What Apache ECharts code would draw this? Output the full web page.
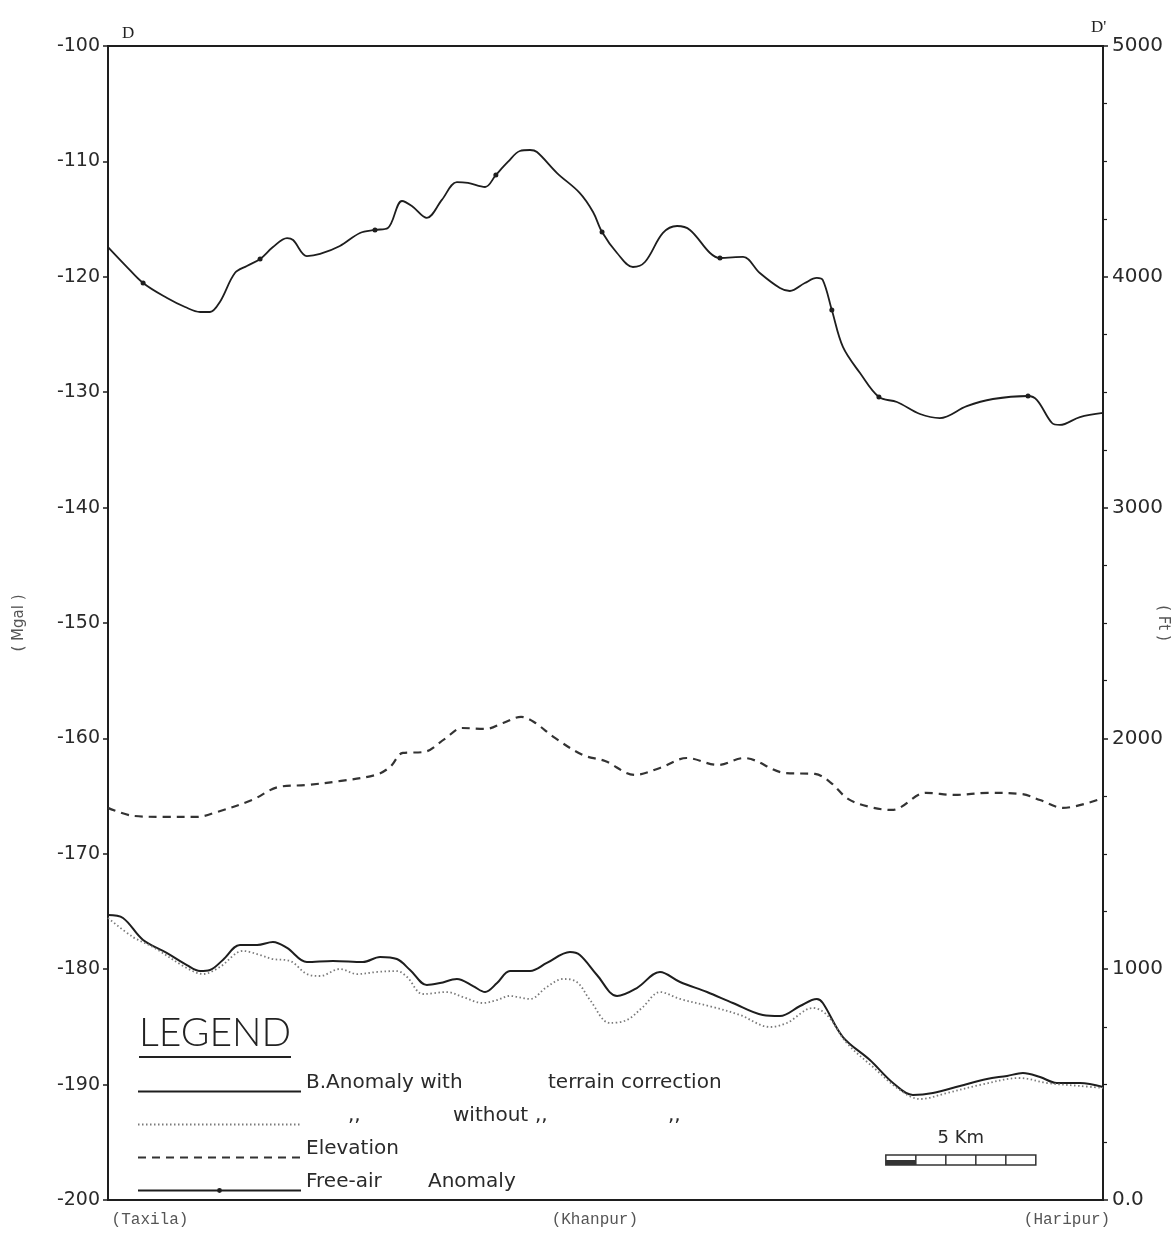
<!DOCTYPE html>
<html>
<head>
<meta charset="utf-8">
<script src="https://cdn.jsdelivr.net/npm/echarts@6/dist/echarts.min.js"></script>
<style>
html,body{margin:0;padding:0;background:#fff;}
#chart{width:1176px;height:1242px;}
</style>
</head>
<body>
<div id="chart"></div>
<script>
// ---- Data (distance along profile D-D' in km) ----
var freeAirKm = [0,0.57,1.17,1.97,2.57,3.07,3.4,3.73,4.23,4.63,5.07,5.5,5.97,6.17,6.63,7.07,7.73,8.4,8.9,9.33,9.8,10.13,10.63,11.13,11.63,12.0,12.57,12.93,13.33,13.73,14.07,14.3,14.97,15.73,16.17,16.47,16.97,17.5,17.9,18.5,18.97,19.4,20.07,20.4,21.17,21.73,22.4,22.73,23.23,23.63,23.83,24.13,24.5,25.07,25.7,26.3,27.07,27.73,28.63,29.5,30.67,30.97,31.47,31.73,32.4,33.17];
var freeAirMgal = [-117.42,-118.98,-120.54,-121.84,-122.62,-123.05,-123.05,-122.18,-119.67,-119.06,-118.46,-117.42,-116.64,-116.81,-118.2,-118.02,-117.33,-116.2,-115.94,-115.77,-113.43,-113.86,-114.9,-113.34,-111.79,-111.87,-112.22,-111.18,-110.05,-109.1,-109.01,-109.19,-111.01,-112.74,-114.38,-116.12,-117.94,-119.15,-118.72,-116.2,-115.6,-115.94,-117.94,-118.37,-118.28,-119.67,-120.97,-121.23,-120.54,-120.1,-120.28,-122.88,-126.08,-128.34,-130.42,-130.85,-131.89,-132.24,-131.2,-130.59,-130.33,-130.68,-132.67,-132.84,-132.15,-131.8];
var freeAirStationIdx = [2,10,18,27,35,43,51,54,60];

var elevKm = [0,0.87,1.9,2.97,3.63,4.8,5.7,6.63,7.77,8.93,9.4,9.83,10.53,11.23,11.8,12.6,13.17,13.77,14.2,14.9,15.83,16.57,17.57,18.4,19.3,20.33,21.2,22.57,23.57,24.07,24.67,25.4,26.13,27.27,28.23,29.33,30.47,31.07,31.83,33.17];
var elevFt = [1699,1664,1660,1660,1681,1733,1790,1798,1816,1842,1876,1937,1941,1998,2045,2041,2067,2093,2071,2002,1928,1902,1842,1872,1915,1885,1915,1850,1846,1811,1738,1703,1690,1764,1755,1764,1759,1733,1699,1742];

var bWithKm = [0,0.5,1.17,1.97,2.63,3.07,3.4,3.83,4.4,4.97,5.5,5.97,6.63,7.5,8.5,9.07,9.63,10.07,10.63,11.07,11.63,12.17,12.57,12.97,13.4,14.07,14.63,15.4,15.73,16.3,16.97,17.63,18.4,19.07,19.97,20.83,21.83,22.4,23.07,23.63,23.83,24.5,25.4,26.17,26.83,27.5,28.4,29.3,29.97,30.5,31.07,31.63,32.4,33.17];
var bWithMgal = [-175.3,-175.56,-177.47,-178.6,-179.64,-180.16,-180.07,-179.2,-177.9,-177.9,-177.64,-178.16,-179.38,-179.29,-179.38,-178.94,-179.12,-180.07,-181.37,-181.2,-180.85,-181.46,-181.98,-181.2,-180.16,-180.16,-179.46,-178.51,-178.77,-180.5,-182.32,-181.63,-180.24,-181.11,-181.98,-182.93,-183.97,-184.06,-183.19,-182.58,-182.93,-185.88,-187.87,-189.86,-190.9,-190.73,-190.12,-189.51,-189.25,-188.99,-189.34,-189.86,-189.86,-190.21];

var bWithoutKm = [0,0.83,1.5,2.63,3.17,3.73,4.5,5.07,5.5,6.07,6.63,7.07,7.73,8.3,8.97,9.63,9.97,10.5,11.3,11.83,12.5,12.97,13.4,14.07,14.63,15.17,15.63,16.07,16.73,17.3,17.83,18.4,19.07,20.17,21.07,22.07,22.63,23.5,23.97,24.63,25.5,26.4,27.07,27.97,29.07,30.4,31.3,32.4,33.17];
var bWithoutMgal = [-175.56,-177.21,-178.08,-179.9,-180.42,-179.81,-178.42,-178.77,-179.12,-179.29,-180.42,-180.59,-179.98,-180.42,-180.24,-180.16,-180.68,-182.15,-181.98,-182.41,-182.93,-182.67,-182.32,-182.58,-181.54,-180.85,-181.11,-182.67,-184.66,-184.4,-183.28,-181.98,-182.58,-183.28,-183.97,-185.01,-184.66,-183.36,-183.97,-186.4,-188.47,-190.47,-191.25,-190.73,-190.03,-189.43,-189.86,-190.12,-190.29];

var seriesNames = ['B.Anomaly with  terrain correction', 'B.Anomaly without terrain correction', 'Elevation', 'Free-air   Anomaly'];
// legend wording as printed (ditto marks on the second row)
var legendTexts = [
  '{w242|B.Anomaly with}{t|terrain correction}\n',
  '{w42|\u00a0}{w105|,,}{w82|without}{w133|,,}{t|,,}\n',
  '{t|Elevation}\n',
  '{w122|Free-air}{t|Anomaly}\n'
];

var placeKm = [1.4, 16.23, 31.97];
var placeNames = ['(Taxila)', '(Khanpur)', '(Haripur)'];

var mgalTicks = [-200, -100, 10];   // min, max, interval
var ftTicks = [0, 5000, 1000];      // min, max, interval
var scaleBarKm = 5;

function pairs(xs, ys) { return xs.map(function (x, i) { return [x, ys[i]]; }); }

var freeAirData = freeAirKm.map(function (x, i) {
  var item = { value: [x, freeAirMgal[i]] };
  if (freeAirStationIdx.indexOf(i) >= 0) { item.symbol = 'circle'; item.symbolSize = 5; }
  return item;
});

var chart = echarts.init(document.getElementById('chart'), null, { renderer: 'canvas' });
var ink = '#1e1e1e';
var txt = '#2a2a2a';
var legendFont = { fontFamily: 'DejaVu Sans', fontSize: 20, color: txt, lineHeight: 17 };
function rw(w) { return { fontFamily: 'DejaVu Sans', fontSize: 20, color: txt, width: w, lineHeight: 17 }; }

var option = {
  backgroundColor: '#ffffff',
  animation: false,
  grid: { left: 108, right: 73, top: 46, bottom: 42, outerBoundsMode: 'none', containLabel: false, show: true, borderColor: ink, borderWidth: 2, backgroundColor: 'transparent' },
  legend: {
    show: true,
    orient: 'vertical',
    left: 137,
    top: 1073,
    padding: 0,
    itemGap: -4,
    itemWidth: 163,
    itemHeight: 6,
    selectedMode: false,
    data: [
      { name: seriesNames[0], itemStyle: { opacity: 0 } },
      { name: seriesNames[1], itemStyle: { opacity: 0 } },
      { name: seriesNames[2], itemStyle: { opacity: 0 } },
      { name: seriesNames[3] }
    ],
    formatter: function (name) { return legendTexts[seriesNames.indexOf(name)]; },
    textStyle: {
      fontFamily: 'DejaVu Sans', fontSize: 20, color: txt, lineHeight: 17,
      rich: { t: legendFont, w242: rw(242), w42: rw(42), w105: rw(105), w82: rw(82), w133: rw(133), w122: rw(122) }
    }
  },
  xAxis: {
    type: 'value', min: 0, max: 33.17,
    axisLine: { show: true, lineStyle: { color: ink, width: 2 } },
    axisTick: { show: false },
    splitLine: { show: false },
    axisLabel: {
      show: true,
      customValues: placeKm,
      margin: 12,
      fontFamily: 'Liberation Mono', fontSize: 16, color: '#555',
      formatter: function (v) {
        for (var i = 0; i < placeKm.length; i++) if (Math.abs(placeKm[i] - v) < 1e-6) return placeNames[i];
        return '';
      }
    }
  },
  yAxis: [{
    type: 'value', min: mgalTicks[0], max: mgalTicks[1], interval: mgalTicks[2],
    position: 'left',
    name: '( Mgal )', nameLocation: 'middle', nameGap: 81, nameRotate: 90, nameMoveOverlap: false,
    nameTextStyle: { fontFamily: 'DejaVu Sans', fontSize: 15, color: '#555' },
    axisLine: { show: true, lineStyle: { color: ink, width: 2 } },
    axisTick: { show: true, inside: false, length: 5, lineStyle: { color: ink, width: 1.5 } },
    splitLine: { show: false },
    axisLabel: { fontFamily: 'DejaVu Sans', fontSize: 19, color: txt, margin: 8 }
  }, {
    type: 'value', min: ftTicks[0], max: ftTicks[1], interval: ftTicks[2],
    position: 'right',
    name: '( Ft )', nameLocation: 'middle', nameGap: 52, nameRotate: -90, nameMoveOverlap: false,
    nameTextStyle: { fontFamily: 'DejaVu Sans', fontSize: 15, color: '#555' },
    axisLine: { show: true, lineStyle: { color: ink, width: 2 } },
    axisTick: { show: true, inside: false, length: 5, lineStyle: { color: ink, width: 1.5 } },
    minorTick: { show: true, splitNumber: 4, length: 4, lineStyle: { color: ink, width: 1.2 } },
    splitLine: { show: false },
    axisLabel: {
      fontFamily: 'DejaVu Sans', fontSize: 20, color: txt, margin: 9,
      formatter: function (v) { return v === 0 ? '0.0' : String(v); }
    }
  }],
  series: [{
    name: seriesNames[0], type: 'line', yAxisIndex: 0,
    data: pairs(bWithKm, bWithMgal), smooth: 0.35, symbol: 'none',
    lineStyle: { color: ink, width: 2 }, itemStyle: { color: ink }
  }, {
    name: seriesNames[1], type: 'line', yAxisIndex: 0,
    data: pairs(bWithoutKm, bWithoutMgal), smooth: 0.35, symbol: 'none',
    lineStyle: { color: '#7a7a7a', width: 1.8, type: [1.5, 2.5] }, itemStyle: { color: '#7a7a7a' }
  }, {
    name: seriesNames[2], type: 'line', yAxisIndex: 1,
    data: pairs(elevKm, elevFt), smooth: 0.35, symbol: 'none',
    lineStyle: { color: '#333', width: 2.2, type: [8, 6] }, itemStyle: { color: '#333' }
  }, {
    name: seriesNames[3], type: 'line', yAxisIndex: 0,
    data: freeAirData, smooth: 0.35, symbol: 'none', showSymbol: true,
    lineStyle: { color: ink, width: 1.8 }, itemStyle: { color: ink }
  }]
};
chart.setOption(option);

// Title marks and scale bar positioned through the chart's own scales
var pLeftTop = chart.convertToPixel({ xAxisIndex: 0, yAxisIndex: 0 }, [0, mgalTicks[1]]);
var pRightTop = chart.convertToPixel({ xAxisIndex: 0, yAxisIndex: 0 }, [33.17, mgalTicks[1]]);
var x0 = chart.convertToPixel({ xAxisIndex: 0 }, 25.93);
var x1 = chart.convertToPixel({ xAxisIndex: 0 }, 25.93 + scaleBarKm);
var seg = (x1 - x0) / scaleBarKm;
var barTop = 1155, barH = 10;
var barEls = [{
  type: 'rect', shape: { x: x0, y: barTop, width: x1 - x0, height: barH },
  style: { fill: '#fff', stroke: '#333', lineWidth: 1.5 }
}, {
  type: 'rect', shape: { x: x0, y: barTop + barH / 2, width: seg, height: barH / 2 },
  style: { fill: '#333' }
}];
for (var k = 1; k < scaleBarKm; k++) {
  barEls.push({ type: 'line', shape: { x1: x0 + seg * k, y1: barTop, x2: x0 + seg * k, y2: barTop + barH }, style: { stroke: '#333', lineWidth: 1.5 } });
}
barEls.push({ type: 'text', style: { text: scaleBarKm + ' Km', x: (x0 + x1) / 2, y: barTop - 8, align: 'center', verticalAlign: 'bottom', fontFamily: 'DejaVu Sans', fontSize: 18, fill: txt } });

chart.setOption({
  graphic: [
    { type: 'text', style: { text: 'D', x: pLeftTop[0] + 14, y: pLeftTop[1] - 4, verticalAlign: 'bottom', fontFamily: 'Liberation Serif', fontSize: 17, fill: '#222' } },
    { type: 'text', style: { text: "D'", x: pRightTop[0] - 12, y: pRightTop[1] - 10, verticalAlign: 'bottom', fontFamily: 'Liberation Serif', fontSize: 17, fill: '#222' } },
    { type: 'text', style: { text: 'LEGEND', x: 139, y: 1053, verticalAlign: 'bottom', fontFamily: 'Lato', fontWeight: 300, fontSize: 39, fill: '#222' } },
    { type: 'line', shape: { x1: 139, y1: 1057, x2: 291, y2: 1057 }, style: { stroke: '#222', lineWidth: 2 } },
    { type: 'group', children: barEls }
  ]
});
</script>
</body>
</html>
